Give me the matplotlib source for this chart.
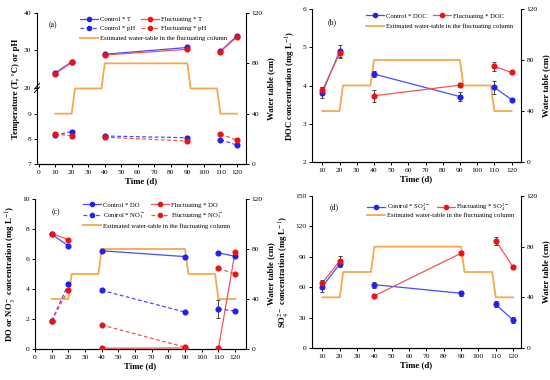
"""Four-panel time series of column chemistry with the estimated water table."""

import numpy as np
import matplotlib

matplotlib.use("Agg")
import matplotlib.pyplot as plt
from matplotlib.lines import Line2D

plt.rcParams["font.family"] = ["Liberation Serif", "DejaVu Serif"]
plt.rcParams["mathtext.fontset"] = "stix"
plt.rcParams["axes.linewidth"] = 0.8

BLUE = "#2020f0"
BLUE_LINE = "#4a4aff"
RED = "#ee1111"
RED_LINE = "#f05555"
ORANGE = "#f5a850"

days = [10, 20, 40, 90, 110, 120]
wt_days = [10, 20, 22, 38, 40, 90, 92, 108, 110, 120]
wt_level = [40, 40, 60, 60, 80, 80, 60, 60, 40, 40]

# (a) temperature and pH
ctrl_T = [24.0, 27.0, 29.0, 30.8, 29.8, 33.9]
ctrl_T_err = [0.2, 0.2, 0.2, 0.3, 0.2, 0.2]
fluc_T = [23.8, 26.8, 28.8, 30.3, 29.7, 33.6]
fluc_T_err = [0.2, 0.2, 0.2, 0.3, 0.2, 0.2]
ctrl_pH = [8.15, 8.30, 8.12, 8.05, 7.97, 7.76]
ctrl_pH_err = [0.03, 0.06, 0.08, 0.06, 0.03, 0.05]
fluc_pH = [8.20, 8.13, 8.07, 7.92, 8.20, 7.95]
fluc_pH_err = [0.03, 0.10, 0.05, 0.04, 0.04, 0.10]

# (b) DOC
ctrl_DOC = [3.81, 4.89, 4.30, 3.71, 3.95, 3.63]
ctrl_DOC_err = [0.14, 0.16, 0.07, 0.12, 0.17, 0.04]
fluc_DOC = [3.87, 4.84, 3.73, 4.01, 4.50, 4.34]
fluc_DOC_err = [0.10, 0.10, 0.15, 0.06, 0.12, 0.03]

# (c) DO and nitrate
ctrl_DO = [7.65, 6.88, 6.55, 6.16, 6.41, 6.18]
ctrl_DO_err = [0.05, 0.05, 0.05, 0.05, 0.05, 0.05]
fluc_DO = [7.70, 7.29, 0.05, 0.07, 0.05, 6.47]
fluc_DO_err = [0.05, 0.05, 0.03, 0.03, 0.03, 0.05]
ctrl_NO3 = [1.87, 4.33, 3.91, 2.46, 2.67, 2.53]
ctrl_NO3_err = [0.05, 0.15, 0.08, 0.08, 0.58, 0.05]
fluc_NO3 = [1.87, 3.95, 1.60, 0.12, 5.37, 5.00]
fluc_NO3_err = [0.05, 0.08, 0.05, 0.05, 0.05, 0.08]

# (d) sulfate
ctrl_SO4 = [60.5, 83.0, 62.5, 54.0, 43.2, 27.5]
ctrl_SO4_err = [5.0, 3.0, 3.0, 2.5, 3.0, 3.0]
fluc_SO4 = [64.2, 86.0, 51.5, 93.5, 106.0, 80.0]
fluc_SO4_err = [2.5, 4.5, 1.5, 2.0, 4.0, 2.0]

LEGEND_FONT = 4.8
TICK_FONT = 5.4
LABEL_FONT = 6.3


def _series(ax, values, errors, color, line_color, dashed=False):
    """Plot a series as three connected pairs of sampling days."""
    style = (0, (3, 2)) if dashed else "-"
    for start in (0, 2, 4):
        ax.plot(days[start:start + 2], values[start:start + 2], color=line_color,
                lw=0.9, ls=style, zorder=3)
    ax.errorbar(days, values, yerr=errors, fmt="o", ms=3.4, color=color,
                ecolor="#444444", elinewidth=0.7, capsize=1.6, capthick=0.7, zorder=4)


def _handle(color, line_color, dashed=False):
    return Line2D([], [], color=line_color, lw=0.9, ls=(0, (3, 2)) if dashed else "-",
                  marker="o", ms=3.0, markerfacecolor=color, markeredgecolor=color)


def _style(ax, twin, xlim, xticks, ylabel, panel, panel_xy):
    ax.set_xlim(*xlim)
    ax.set_xticks(xticks)
    ax.spines["top"].set_visible(False)
    ax.spines["right"].set_visible(False)
    twin.spines["top"].set_visible(False)
    twin.spines["left"].set_visible(False)
    ax.tick_params(labelsize=TICK_FONT, length=2.5, width=0.7, pad=1.5)
    twin.tick_params(labelsize=TICK_FONT, length=2.5, width=0.7, pad=1.5)
    ax.set_xlabel("Time (d)", fontsize=LABEL_FONT, fontweight="bold", labelpad=2)
    ax.set_ylabel(ylabel, fontsize=LABEL_FONT, fontweight="bold", labelpad=3)
    twin.set_ylim(0, 120)
    twin.set_yticks([0, 40, 80, 120])
    twin.set_ylabel("Water table (cm)", fontsize=LABEL_FONT, fontweight="bold", labelpad=3)
    twin.plot(wt_days, wt_level, color=ORANGE, lw=1.3, zorder=1)
    ax.set_zorder(twin.get_zorder() + 1)
    ax.patch.set_visible(False)
    ax.text(panel_xy[0], panel_xy[1], panel, transform=ax.transAxes, fontsize=5.6,
            va="center", ha="left")


def _add_legend(ax, handles, labels, x, y_top, y_wt):
    """Two-column legend for the data series, water-table entry on its own row."""
    leg = ax.legend(handles, labels, ncol=2, loc="upper left", bbox_to_anchor=(x, y_top),
                    frameon=False, fontsize=LEGEND_FONT, handlelength=2.7,
                    handletextpad=0.25, columnspacing=1.0, labelspacing=0.5,
                    borderaxespad=0, borderpad=0)
    ax.add_artist(leg)
    wt = Line2D([], [], color=ORANGE, lw=1.3)
    ax.legend([wt], ["Estimated water-table in the fluctuating column"],
              loc="upper left", bbox_to_anchor=(x, y_wt),
              frameon=False, fontsize=LEGEND_FONT, handlelength=2.7,
              handletextpad=0.25, borderaxespad=0, borderpad=0)


def _fwd(v):
    v = np.asarray(v, dtype=float)
    return np.where(v <= 9, v - 7,
                    np.where(v >= 20, 3.04 + (v - 20) * 0.15, 2 + (v - 9) * 1.04 / 11))


def _inv(u):
    u = np.asarray(u, dtype=float)
    return np.where(u <= 2, u + 7,
                    np.where(u >= 3.04, 20 + (u - 3.04) / 0.15, 9 + (u - 2) * 11 / 1.04))


def main():
    fig = plt.figure(figsize=(5.5, 3.8), dpi=100)
    fig.patch.set_facecolor("white")
    ticks_a = list(range(0, 121, 10))
    ticks_b = list(range(10, 121, 10))

    # (a)
    ax = fig.add_axes([0.0673, 0.5684, 0.38, 0.3974])
    twin = ax.twinx()
    _style(ax, twin, (-1, 125.5), ticks_a, "Temperature (T, °C) or pH", "(a)", (0.057, 0.92))
    ax.set_yscale("function", functions=(_fwd, _inv))
    ax.set_ylim(7, 40)
    ax.set_yticks([7, 8, 9, 20, 30, 40])
    ax.minorticks_off()
    _series(ax, ctrl_T, ctrl_T_err, BLUE, BLUE_LINE)
    _series(ax, fluc_T, fluc_T_err, RED, RED_LINE)
    _series(ax, ctrl_pH, ctrl_pH_err, BLUE, BLUE_LINE, dashed=True)
    _series(ax, fluc_pH, fluc_pH_err, RED, RED_LINE, dashed=True)
    y20 = (_fwd(20) - _fwd(7)) / (_fwd(40) - _fwd(7))
    for off in (-0.012, 0.012):
        ax.plot([-0.012, 0.012], [y20 + off - 0.018, y20 + off + 0.018],
                transform=ax.transAxes, color="black", lw=0.7, clip_on=False)
    _add_legend(ax,
                [_handle(BLUE, BLUE_LINE), _handle(BLUE, BLUE_LINE, True),
                 _handle(RED, RED_LINE), _handle(RED, RED_LINE, True)],
                ["Control * T", "Control * pH", "Fluctuating * T", "Fluctuating * pH"],
                0.205, 0.977, 0.851)

    # (b)
    ax = fig.add_axes([0.5673, 0.5737, 0.38, 0.4026])
    twin = ax.twinx()
    _style(ax, twin, (4, 125.5), ticks_b, "DOC concentration (mg L$^{-1}$)", "(b)", (0.077, 0.917))
    ax.set_ylim(2, 6)
    ax.set_yticks([2, 3, 4, 5, 6])
    _series(ax, ctrl_DOC, ctrl_DOC_err, BLUE, BLUE_LINE)
    _series(ax, fluc_DOC, fluc_DOC_err, RED, RED_LINE)
    _add_legend(ax, [_handle(BLUE, BLUE_LINE), _handle(RED, RED_LINE)],
                ["Control * DOC", "Fluctuating * DOC"], 0.258, 0.973, 0.907)

    # (c)
    ax = fig.add_axes([0.0636, 0.0816, 0.3836, 0.3947])
    twin = ax.twinx()
    _style(ax, twin, (0, 126.5), ticks_a,
           "DO or NO$_3^-$ concentration (mg L$^{-1}$)", "(c)", (0.079, 0.915))
    ax.set_ylim(0, 10)
    ax.set_yticks([0, 2, 4, 6, 8, 10])
    _series(ax, ctrl_DO, ctrl_DO_err, BLUE, BLUE_LINE)
    _series(ax, fluc_DO, fluc_DO_err, RED, RED_LINE)
    _series(ax, ctrl_NO3, ctrl_NO3_err, BLUE, BLUE_LINE, dashed=True)
    _series(ax, fluc_NO3, fluc_NO3_err, RED, RED_LINE, dashed=True)
    _add_legend(ax,
                [_handle(BLUE, BLUE_LINE), _handle(BLUE, BLUE_LINE, True),
                 _handle(RED, RED_LINE), _handle(RED, RED_LINE, True)],
                ["Control * DO", "Control * NO$_3^-$",
                 "Fluctuating * DO", "Fluctuating * NO$_3^-$"],
                0.227, 0.979, 0.839)

    # (d)
    ax = fig.add_axes([0.5673, 0.0842, 0.38, 0.4])
    twin = ax.twinx()
    _style(ax, twin, (4, 124.6), ticks_b,
           "SO$_4^{2-}$ concentration (mg L$^{-1}$)", "(d)", (0.083, 0.926))
    ax.set_ylim(0, 150)
    ax.set_yticks([0, 30, 60, 90, 120, 150])
    _series(ax, ctrl_SO4, ctrl_SO4_err, BLUE, BLUE_LINE)
    _series(ax, fluc_SO4, fluc_SO4_err, RED, RED_LINE)
    _add_legend(ax, [_handle(BLUE, BLUE_LINE), _handle(RED, RED_LINE)],
                ["Control * SO$_4^{2-}$", "Fluctuating * SO$_4^{2-}$"], 0.263, 0.964, 0.891)

    fig.savefig("out.png", dpi=100, facecolor="white")
    plt.close(fig)


if __name__ == "__main__":
    main()
